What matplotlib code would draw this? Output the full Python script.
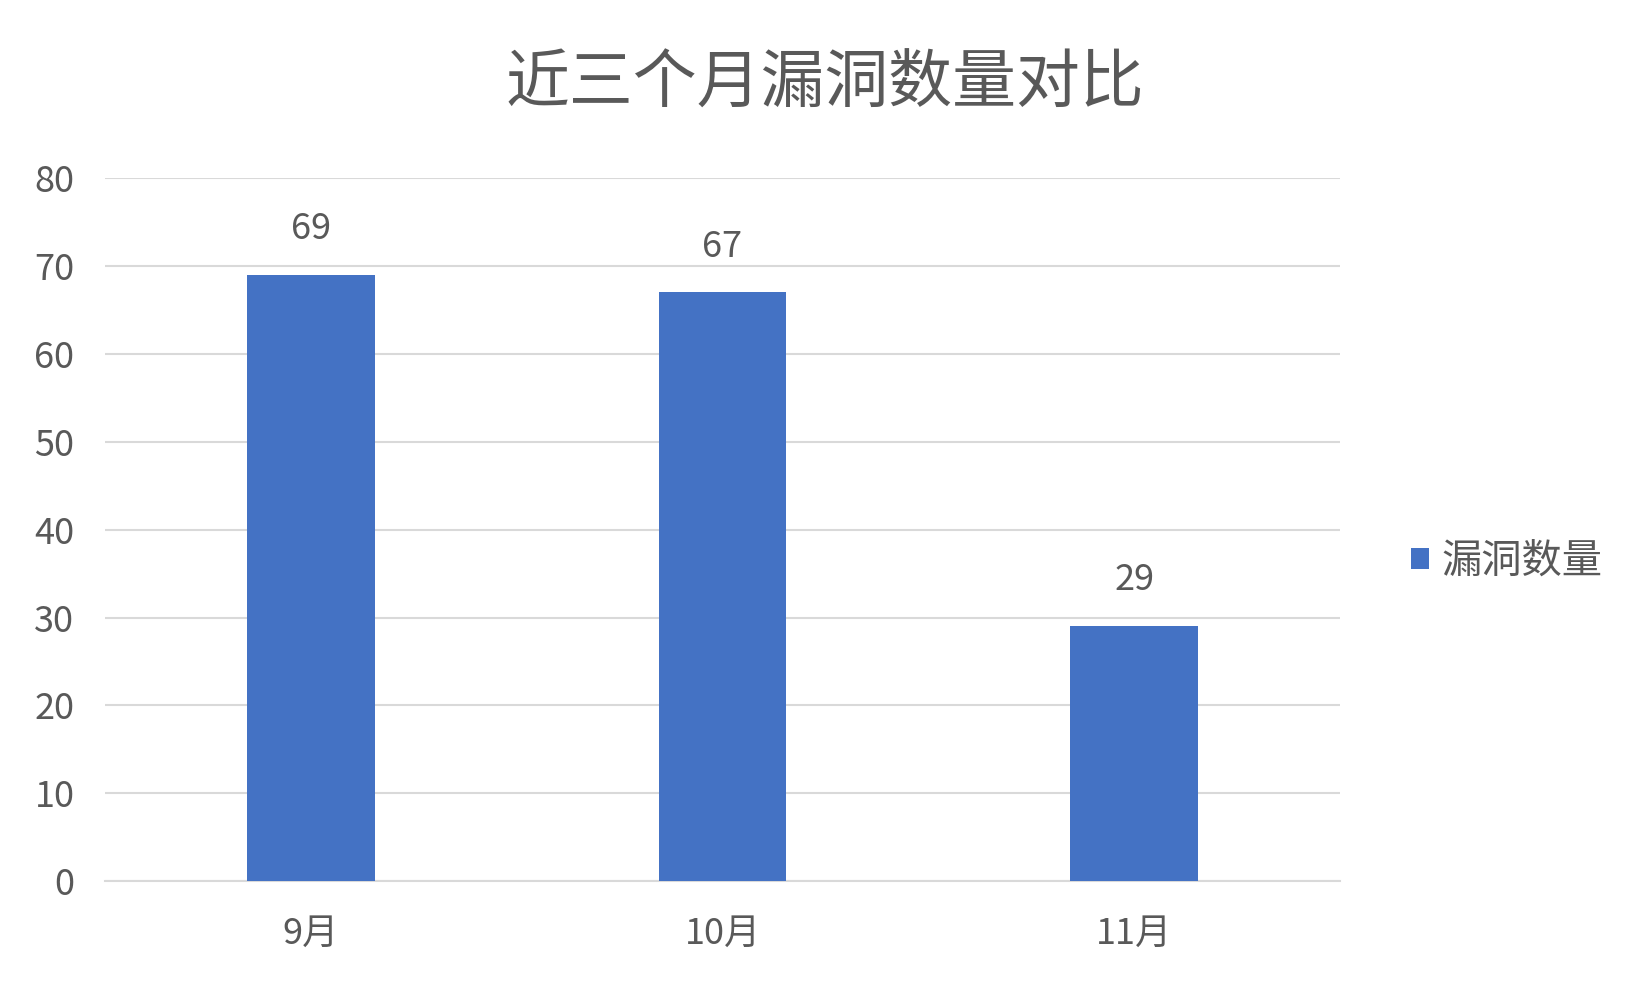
import matplotlib.pyplot as plt

plt.rcParams['font.family'] = ['Noto Sans CJK SC', 'DejaVu Sans']

# datos del gráfico
months = ['9月', '10月', '11月']
counts = [69, 67, 29]
series_name = '漏洞数量'
title = '近三个月漏洞数量对比'
y_ticks = [0, 10, 20, 30, 40, 50, 60, 70, 80]

text_color = '#595959'
grid_color = '#D9D9D9'
bar_color = '#4472C4'

fig = plt.figure(figsize=(16.5, 9.9), dpi=100)
ax = fig.add_axes([0.0636, 0.110, 0.7485, 0.710])

x = range(len(months))
bars = ax.bar(x, counts, width=0.31, color=bar_color, label=series_name, zorder=3)

# etiquetas de datos sobre cada barra
for xi, v in zip(x, counts):
    ax.annotate(str(v), (xi, v), xytext=(0, 33), textcoords='offset points',
                ha='center', va='center', fontsize=26, color=text_color)

ax.set_xlim(-0.5, len(months) - 0.5)
ax.set_ylim(0, 80)
ax.set_yticks(y_ticks)
ax.set_xticks(list(x))
ax.set_xticklabels(months)
ax.tick_params(axis='both', length=0, labelsize=26, labelcolor=text_color)
ax.tick_params(axis='y', pad=22)
ax.tick_params(axis='x', pad=25)

ax.grid(axis='y', color=grid_color, linewidth=1.5, zorder=0)
for side in ['top', 'right', 'left']:
    ax.spines[side].set_visible(False)
ax.spines['bottom'].set_color(grid_color)
ax.spines['bottom'].set_linewidth(1.5)

fig.suptitle(title, x=0.5, y=0.915, va='center', fontsize=46, color=text_color)

fig.legend(handles=[bars], labels=[series_name], loc='center left',
           bbox_to_anchor=(0.855, 0.433), frameon=False, fontsize=29,
           labelcolor=text_color, handlelength=0.45, handleheight=0.45,
           handletextpad=0.3, borderpad=0, borderaxespad=0)

fig.savefig('out.png', dpi=100)
